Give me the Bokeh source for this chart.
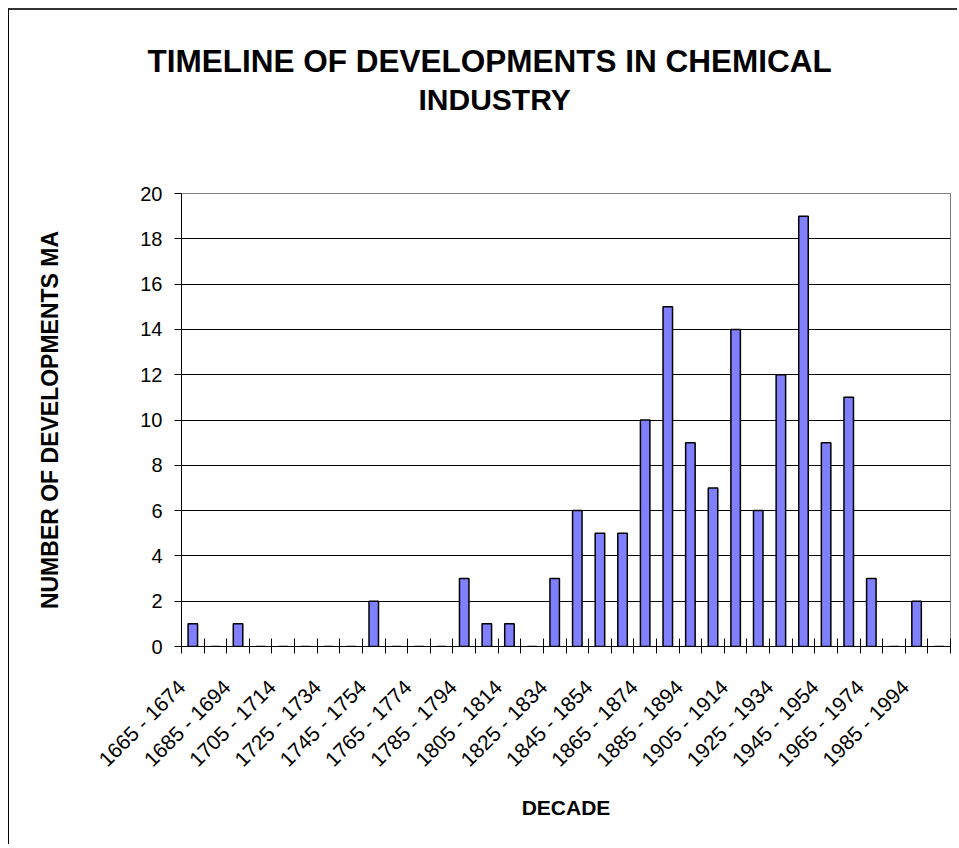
import math
from bokeh.plotting import figure
from bokeh.models import FixedTicker, Range1d, Title
from bokeh.embed import file_html
from bokeh.resources import INLINE

decades = [
    "1665 - 1674", "1675 - 1684", "1685 - 1694", "1695 - 1704", "1705 - 1714",
    "1715 - 1724", "1725 - 1734", "1735 - 1744", "1745 - 1754", "1755 - 1764",
    "1765 - 1774", "1775 - 1784", "1785 - 1794", "1795 - 1804", "1805 - 1814",
    "1815 - 1824", "1825 - 1834", "1835 - 1844", "1845 - 1854", "1855 - 1864",
    "1865 - 1874", "1875 - 1884", "1885 - 1894", "1895 - 1904", "1905 - 1914",
    "1915 - 1924", "1925 - 1934", "1935 - 1944", "1945 - 1954", "1955 - 1964",
    "1965 - 1974", "1975 - 1984", "1985 - 1994", "1995 - 2004",
]
counts = [1, 0, 1, 0, 0, 0, 0, 0, 2, 0,
          0, 0, 3, 1, 1, 0, 3, 6, 5, 5,
          10, 15, 9, 7, 14, 6, 12, 19, 9, 11,
          3, 0, 2, 0]
y_ticks = [0, 2, 4, 6, 8, 10, 12, 14, 16, 18, 20]
title_lines = ["TIMELINE OF DEVELOPMENTS IN CHEMICAL", "INDUSTRY"]

n = len(decades)
xs = [i + 0.5 for i in range(n)]

FONT = "Liberation Sans"

p = figure(width=949, height=836, output_backend="svg", toolbar_location=None,
           x_range=Range1d(0, n), y_range=Range1d(0, 20),
           min_border_left=172, min_border_right=8, min_border_top=183,
           min_border_bottom=200, background_fill_color="white",
           border_fill_color="white")
p.styles = {"margin-left": "8px", "margin-top": "8px",
            "border-top": "2px solid #333333", "border-left": "1px solid #000000"}

# outer (first) title line
p.title.text = title_lines[0]
p.title.text_font = FONT
p.title.text_font_size = "31.5px"
p.title.text_font_style = "bold"
p.title.text_color = "#000000"
p.title.align = "left"
p.title.offset = -34
p.title.standoff = 2

# blank spacer between the title block and the plot area (closest to the plot)
spacer = Title(text=" ", text_font=FONT, text_font_size="2px", standoff=73)
p.add_layout(spacer, "above")

# second title line
t2 = Title(text=title_lines[1], text_font=FONT, text_font_size="30px",
           text_font_style="bold", text_color="#000000", align="left",
           offset=237, standoff=2)
p.add_layout(t2, "above")

p.vbar(x=xs, top=counts, width=0.42, fill_color="#8080FF", line_color="#000000", line_width=1.5)

p.xgrid.visible = False
p.ygrid.ticker = FixedTicker(ticks=y_ticks)
p.ygrid.grid_line_color = "#000000"
p.ygrid.grid_line_width = 1
p.outline_line_color = "#808080"
p.outline_line_width = 1

ya = p.yaxis[0]
ya.ticker = FixedTicker(ticks=y_ticks)
ya.axis_line_color = "#000000"
ya.major_tick_line_color = "#000000"
ya.major_tick_in = 0
ya.major_tick_out = 7
ya.minor_tick_line_color = None
ya.major_label_text_font = FONT
ya.major_label_text_font_size = "20px"
ya.major_label_text_color = "#000000"
ya.major_label_standoff = 12
ya.axis_label = "NUMBER OF DEVELOPMENTS MA"
ya.axis_label_text_font = FONT
ya.axis_label_text_font_size = "23px"
ya.axis_label_text_font_style = "bold"
ya.axis_label_text_color = "#000000"
ya.axis_label_standoff = 74

xa = p.xaxis[0]
xa.ticker = FixedTicker(ticks=list(range(n + 1)))
xa.major_label_overrides = {i: (decades[i] if (i % 2 == 0 and i < n) else "") for i in range(n + 1)}
xa.major_label_orientation = math.pi / 4
xa.axis_line_color = "#000000"
xa.major_tick_line_color = "#000000"
xa.major_tick_in = 8
xa.major_tick_out = 7
xa.minor_tick_line_color = None
xa.major_label_text_font = FONT
xa.major_label_text_font_size = "21px"
xa.major_label_text_color = "#000000"
xa.major_label_standoff = 30
xa.axis_label = "DECADE"
xa.axis_label_text_font = FONT
xa.axis_label_text_font_size = "21px"
xa.axis_label_text_font_style = "bold"
xa.axis_label_text_color = "#000000"
xa.axis_label_standoff = 14

open("out.html", "w").write(file_html(p, INLINE))
